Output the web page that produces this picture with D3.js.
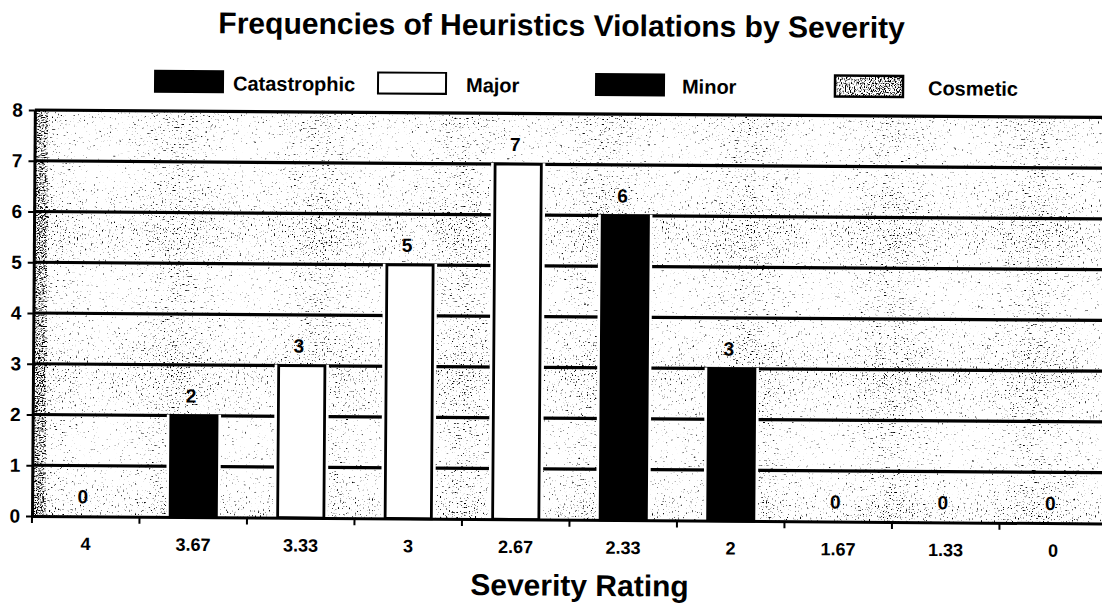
<!DOCTYPE html>
<html>
<head>
<meta charset="utf-8">
<script src="https://cdn.jsdelivr.net/npm/d3@7/dist/d3.min.js"></script>
<style>
  html, body { margin: 0; padding: 0; background: #fff; }
  svg { display: block; }
  text { font-family: "Liberation Sans", Arial, sans-serif; font-weight: bold; fill: #000; }
</style>
</head>
<body>
<svg id="chart" width="1102" height="616"></svg>
<script>
// ---- data ----
const categories = ["4", "3.67", "3.33", "3", "2.67", "2.33", "2", "1.67", "1.33", "0"];
const seriesNames = ["Catastrophic", "Major", "Minor", "Cosmetic"];
const catastrophic = [0, 2, 0, 0, 0, 0, 0, 0, 0, 0];
const major        = [0, 0, 3, 5, 7, 0, 0, 0, 0, 0];
const minor        = [0, 0, 0, 0, 0, 6, 3, 0, 0, 0];
const cosmetic     = [0, 0, 0, 0, 0, 0, 0, 0, 0, 0];
const yTickValues  = [0, 1, 2, 3, 4, 5, 6, 7, 8];
const titleText = "Frequencies of Heuristics Violations by Severity";
const xTitleText = "Severity Rating";

const seriesArrays = { Catastrophic: catastrophic, Major: major, Minor: minor, Cosmetic: cosmetic };
const rows = categories.map((c, i) => {
  const r = { category: c };
  seriesNames.forEach(s => r[s] = seriesArrays[s][i]);
  return r;
});

// ---- layout ----
const svg = d3.select("#chart");
const pLeft = 32, pRight = 1107, pTop = 110, pBottom = 516;
const x = d3.scaleBand().domain(categories).range([pLeft, pRight]).padding(0);
const y = d3.scaleLinear().domain([0, 8]).range([pBottom, pTop]);

// ---- defs: speckle filters ----
const defs = svg.append("defs");
function speckle(id, slope, intercept, freq, seed) {
  const f = defs.append("filter").attr("id", id)
    .attr("x", "0").attr("y", "0").attr("width", "100%").attr("height", "100%")
    .attr("color-interpolation-filters", "sRGB");
  f.append("feTurbulence").attr("type", "fractalNoise").attr("baseFrequency", freq)
    .attr("numOctaves", 2).attr("seed", seed).attr("result", "t");
  f.append("feColorMatrix").attr("in", "t").attr("type", "matrix")
    .attr("values", `0 0 0 0 0  0 0 0 0 0  0 0 0 0 0  ${slope} 0 0 0 ${intercept}`);
}
speckle("spk", 7, -4.18, 0.65, 5);
speckle("spkDark", 7, -3.4, 0.8, 9);

const colors = { Catastrophic: "#000", Major: "#fff", Minor: "#000", Cosmetic: "#fff" };

const root = svg.append("g").attr("transform", `rotate(0.4, ${pLeft}, ${pBottom})`);

// ---- title ----
root.append("text").attr("x", 215).attr("y", 32)
  .style("font-size", "30px").text(titleText);

// ---- legend ----
const legendItems = [
  { name: "Catastrophic", rx: 152, tx: 230 },
  { name: "Major",        rx: 375, tx: 463 },
  { name: "Minor",        rx: 593, tx: 679 },
  { name: "Cosmetic",     rx: 832, tx: 925 }
];
const lg = root.append("g");
legendItems.forEach(it => {
  if (it.name === "Cosmetic") {
    lg.append("rect").attr("x", it.rx).attr("y", 70).attr("width", 68).attr("height", 21)
      .attr("fill", "#fff");
    lg.append("rect").attr("x", it.rx).attr("y", 70).attr("width", 68).attr("height", 21)
      .attr("filter", "url(#spkDark)");
    lg.append("rect").attr("x", it.rx).attr("y", 70).attr("width", 68).attr("height", 21)
      .attr("fill", "none").attr("stroke", "#000").attr("stroke-width", 2.5);
  } else {
    lg.append("rect").attr("x", it.rx).attr("y", 70).attr("width", 68).attr("height", 21)
      .attr("fill", colors[it.name]).attr("stroke", "#000").attr("stroke-width", 2);
  }
  lg.append("text").attr("x", it.tx).attr("y", 89).style("font-size", "20px").text(it.name);
});

// ---- plot background ----
root.append("rect").attr("x", pLeft).attr("y", pTop).attr("width", pRight - pLeft).attr("height", pBottom - pTop)
  .attr("fill", "#fff");
root.append("rect").attr("x", pLeft).attr("y", pTop).attr("width", pRight - pLeft).attr("height", pBottom - pTop)
  .attr("filter", "url(#spk)");
root.append("rect").attr("x", pLeft + 1).attr("y", pTop).attr("width", 12).attr("height", pBottom - pTop)
  .attr("filter", "url(#spkDark)");

// ---- gridlines ----
root.append("g").selectAll("line").data(yTickValues.filter(v => v > 0)).join("line")
  .attr("x1", pLeft).attr("x2", pRight)
  .attr("y1", d => y(d)).attr("y2", d => y(d))
  .attr("stroke", "#000").attr("stroke-width", 3.2);

// ---- bars (stacked) ----
const stacked = d3.stack().keys(seriesNames)(rows);
const barW = x.bandwidth() * 0.43;
const barG = root.append("g");
stacked.forEach(layer => {
  const key = layer.key;
  const data = layer.filter(d => d[1] - d[0] > 0);
  barG.selectAll(null).data(data).join("rect")
    .attr("x", d => x(d.data.category) + (x.bandwidth() - barW) / 2 - 4)
    .attr("y", d => y(d[1]) - 1)
    .attr("width", barW + 8)
    .attr("height", d => y(d[0]) - y(d[1]) + 1)
    .attr("fill", "#fff");
  barG.selectAll(null).data(data).join("rect")
    .attr("x", d => x(d.data.category) + (x.bandwidth() - barW) / 2)
    .attr("y", d => y(d[1]))
    .attr("width", barW)
    .attr("height", d => y(d[0]) - y(d[1]))
    .attr("fill", colors[key])
    .attr("stroke", "#000").attr("stroke-width", 2.8);
});

// ---- value labels ----
root.append("g").selectAll("text").data(rows).join("text")
  .attr("x", d => x(d.category) + x.bandwidth() / 2 - 3)
  .attr("y", d => y(d3.sum(seriesNames, s => d[s])) - 13)
  .attr("text-anchor", "middle").style("font-size", "19px")
  .text(d => d3.sum(seriesNames, s => d[s]));

// ---- y axis ----
const yAxis = root.append("g").attr("transform", `translate(${pLeft},0)`)
  .call(d3.axisLeft(y).tickValues(yTickValues).tickSize(6).tickSizeOuter(0).tickPadding(6));
yAxis.select(".domain").attr("stroke", "#000").attr("stroke-width", 3);
yAxis.selectAll(".tick line").attr("stroke", "#000").attr("stroke-width", 2);
yAxis.selectAll(".tick text").style("font-size", "19px").style("font-family", "Liberation Sans, Arial, sans-serif")
  .style("font-weight", "bold").attr("fill", "#000");

// ---- x axis ----
const xAxis = root.append("g").attr("transform", `translate(0,${pBottom})`)
  .call(d3.axisBottom(x).tickSize(0).tickSizeOuter(0).tickPadding(21));
xAxis.select(".domain").attr("stroke", "#000").attr("stroke-width", 3);
xAxis.selectAll(".tick text").style("font-size", "18px").style("font-family", "Liberation Sans, Arial, sans-serif")
  .style("font-weight", "bold").attr("fill", "#000");
root.append("g").selectAll("line").data(categories).join("line")
  .attr("x1", d => x(d)).attr("x2", d => x(d))
  .attr("y1", pBottom).attr("y2", pBottom + 7)
  .attr("stroke", "#000").attr("stroke-width", 2);

// ---- x title ----
root.append("text").attr("x", 580).attr("y", 592).attr("text-anchor", "middle")
  .style("font-size", "30px").text(xTitleText);
</script>
</body>
</html>
